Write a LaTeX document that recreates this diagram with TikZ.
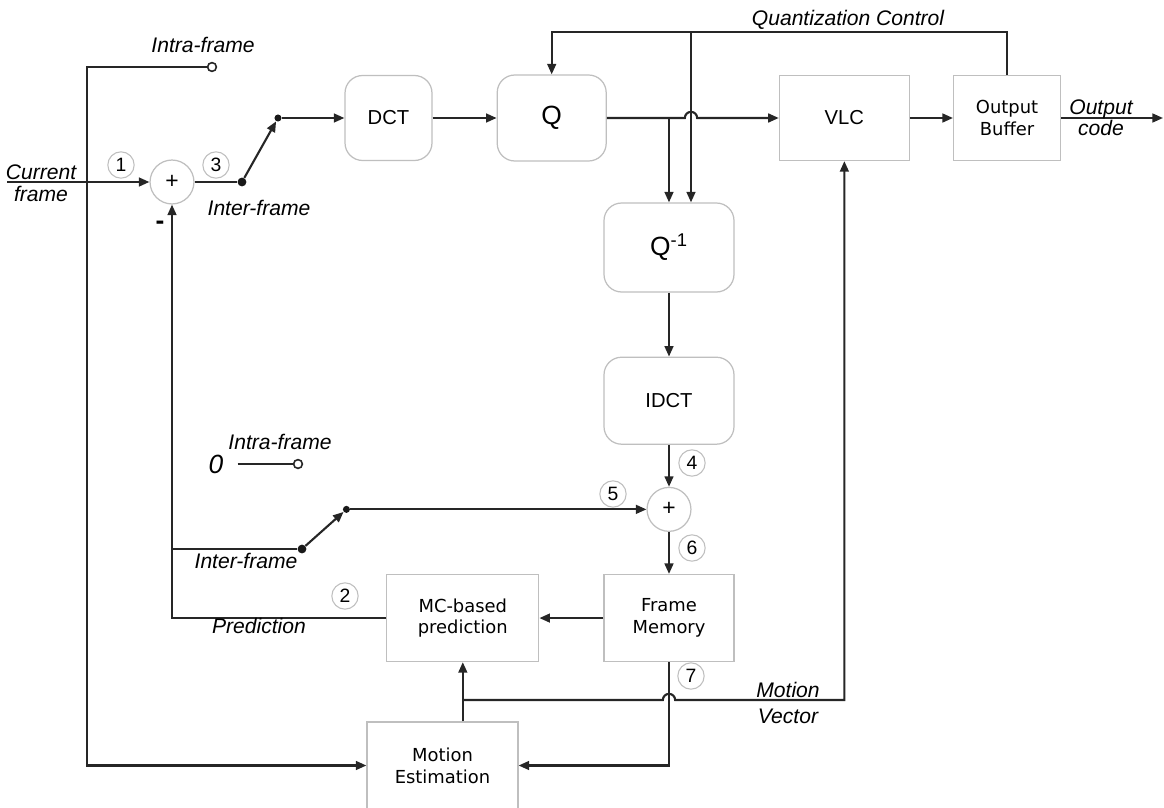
\documentclass[tikz,border=0pt]{standalone}
\usepackage{fontspec}
\setmainfont{Liberation Sans}
\newfontfamily\vfont{DejaVu Sans}
\usetikzlibrary{arrows.meta, positioning, calc}

\begin{document}
\begin{tikzpicture}[
  x=0.02cm, y=-0.02cm,
  wire/.style={line width=1.2pt, draw=black!85},
  arrow/.style={wire, -{Triangle[length=6pt, width=5pt]}},
  blk/.style={draw=black!25, line width=0.7pt, align=center, inner sep=0pt, fill=white, font=\fontsize{11.5}{13}\selectfont},
  rblk/.style={blk, rounded corners=10pt},
  vblk/.style={blk, font=\vfont\fontsize{10.2}{12.5}\selectfont},
  adder/.style={circle, draw=black!25, line width=0.7pt, minimum size=25pt, inner sep=0pt, fill=white, font=\fontsize{13}{13}\selectfont},
  num/.style={circle, draw=black!25, line width=0.6pt, minimum size=15pt, inner sep=0pt, font=\fontsize{11}{11}\selectfont},
  lbl/.style={inner sep=0pt, align=center, font=\itshape\fontsize{12}{12}\selectfont},
  dot/.style={circle, fill=black!90, minimum size=5pt, inner sep=0pt},
  sdot/.style={dot, minimum size=4pt},
  tap/.style={circle, draw=black!85, line width=0.9pt, fill=white, minimum size=5pt, inner sep=0pt}
]
  \useasboundingbox (0,0) rectangle (1164,808);

  % forward path
  \node[adder] (suma) at (172,182) {+};
  \node[rblk, minimum width=1.74cm, minimum height=1.70cm] (dct) at (388.5,118) {DCT};
  \node[rblk, minimum width=2.18cm, minimum height=1.72cm, right=1.28cm of dct, font=\fontsize{15}{15}\selectfont] (q) {Q};
  \node[blk, minimum width=2.6cm, minimum height=1.7cm, right=3.44cm of q] (vlc) {VLC};
  \node[vblk, minimum width=2.14cm, minimum height=1.7cm, right=0.86cm of vlc] (obuf) {Output\\Buffer};

  % reconstruction loop
  \node[rblk, minimum width=2.6cm, minimum height=1.78cm, font=\fontsize{15}{15}\selectfont] (qinv) at (669,247.5) {Q\textsuperscript{-1}};
  \node[rblk, minimum width=2.6cm, minimum height=1.74cm, below=1.28cm of qinv] (idct) {IDCT};
  \node[adder, below=0.84cm of idct] (sumb) {+};
  \node[vblk, minimum width=2.6cm, minimum height=1.74cm, below=0.84cm of sumb] (fmem) {Frame\\Memory};
  \node[vblk, minimum width=3.04cm, minimum height=1.74cm, left=1.28cm of fmem] (mcp) {MC-based\\prediction};
  \node[vblk, minimum width=3.02cm, minimum height=1.74cm] (mest) at (442.5,765.5) {Motion\\Estimation};

  % switches
  \node[dot] (swa) at (242,182) {};
  \node[sdot] (swb) at (278,118) {};
  \node[tap] (tapa) at (212,67) {};
  \node[dot] (swc) at (302,549) {};
  \node[sdot] (swd) at ($(sumb.west)+(-300,0)$) {};
  \node[tap] (tapb) at (298,464) {};
  \node[lbl, font=\itshape\fontsize{15}{15}\selectfont] (zero) at (216,464) {0};

  \coordinate (cin) at (7,182);
  \coordinate (cout) at (1163,118);
  \coordinate (ctl) at (87,67);
  \coordinate (qtap) at (669,118);
  \coordinate (qtop) at (691,32);
  \coordinate (mv) at (464,700);

  \draw[arrow] (cin) -- (suma.west);
  \draw[wire] (suma.east) -- (swa);
  \draw[arrow] (swa) -- (swb);
  \draw[arrow] (swb) -- (dct.west);
  \draw[arrow] (dct) -- (q);
  \draw[arrow] (q.east) -- ([xshift=-3.5pt]qtop |- q.east) arc[start angle=180, end angle=0, radius=3.5pt] -- (vlc.west);
  \draw[arrow] (vlc) -- (obuf);
  \draw[arrow] (obuf.east) -- (cout);

  % quantization control
  \draw[arrow] (obuf.north) -- (obuf.north |- qtop) -- (q.north |- qtop) -- (q.north);
  \draw[arrow] (qtop) -- (qtop |- qinv.north);
  \draw[arrow] (qtap) -- (qinv.north);

  \draw[arrow] (qinv) -- (idct);
  \draw[arrow] (idct) -- (sumb);
  \draw[arrow] (sumb) -- (fmem);
  \draw[arrow] (fmem) -- (mcp);
  \draw[arrow] (mcp.west) -| (suma.south);
  \draw[wire] (suma.south |- swc) -- (swc);
  \draw[arrow] (swc) -- (swd);
  \draw[arrow] (swd.east) -- (sumb.west);
  \draw[line width=0.8pt, draw=black!85] ([xshift=8pt]zero.east) -- (tapb);

  % intra path and motion estimation
  \draw[arrow] (tapa.west) -- (ctl) |- (mest.west);
  \draw[arrow] (fmem.south) -- (fmem.south |- mest.east) -- (mest.east);
  \draw[arrow] (mest.north -| mcp.south) -- (mcp.south);
  \draw[arrow] (mv) -- ([xshift=-3.5pt]mv -| fmem.south) arc[start angle=180, end angle=0, radius=3.5pt] -- (mv -| vlc.south) -- (vlc.south);

  % labels
  \node[lbl, font=\itshape\fontsize{12}{12.5}\selectfont] at (41,183) {Current\\frame};
  \node[lbl] at (203,45) {Intra-frame};
  \node[lbl] at (259,208) {Inter-frame};
  \node[lbl] at (280,442) {Intra-frame};
  \node[lbl] at (246,561) {Inter-frame};
  \node[lbl] at (259,626) {Prediction};
  \node[lbl] at (848,20) {Quantization Control};
  \node[lbl] at (1101,118) {Output\\code};
  \node[lbl, font=\itshape\fontsize{12}{14.7}\selectfont] at (788,703) {Motion\\Vector};
  \node[font=\bfseries\fontsize{15}{15}\selectfont, inner sep=0pt] at (160,225) {-};

  \node[num] at (121,165) {1};
  \node[num] at (345,596) {2};
  \node[num] at (216,165) {3};
  \node[num] at (692,463) {4};
  \node[num] at (613,494) {5};
  \node[num] at (692,548) {6};
  \node[num] at (691,676) {7};

\end{tikzpicture}
\end{document}
